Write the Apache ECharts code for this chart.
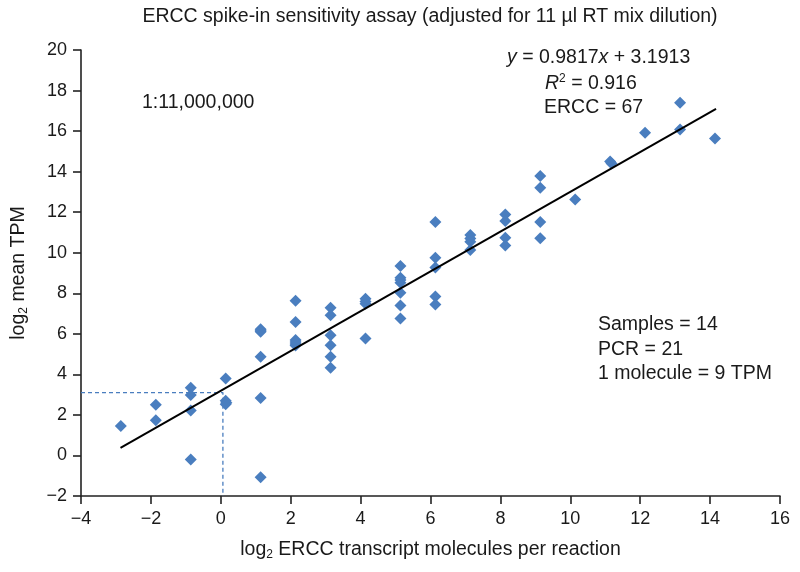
<!DOCTYPE html>
<html>
<head>
<meta charset="utf-8">
<script src="https://cdn.jsdelivr.net/npm/echarts@6/dist/echarts.min.js"></script>
<style>html,body{margin:0;padding:0;background:#fff}#c{width:800px;height:572px}</style>
</head>
<body>
<div id="c"></div>
<script>
// ---- data ----
const pointX = [
  -2.86,
  -1.86, -1.86,
  -0.86, -0.86, -0.86, -0.86,
  0.14, 0.14, 0.14, 0.16,
  1.14, 1.14, 1.14, 1.14, 1.14, 1.14,
  2.14, 2.14, 2.14, 2.14, 2.14, 2.14,
  3.14, 3.14, 3.14, 3.14, 3.14, 3.14,
  4.14, 4.14, 4.14, 4.14,
  5.14, 5.14, 5.14, 5.14, 5.14, 5.14, 5.14,
  6.14, 6.14, 6.14, 6.14, 6.14,
  7.14, 7.14, 7.14, 7.14,
  8.14, 8.14, 8.14, 8.14,
  9.14, 9.14, 9.14, 9.14,
  10.14,
  11.14, 11.18,
  12.14,
  13.14, 13.14,
  14.14
];
const pointY = [
  1.45,
  2.50, 1.74,
  3.34, 2.98, 2.22, -0.20,
  3.80, 2.70, 2.52, 2.60,
  6.22, 6.10, 4.87, 2.83, -1.07, 6.15,
  7.63, 6.58, 5.69, 5.50, 5.42, 5.60,
  7.29, 6.91, 5.93, 5.44, 4.87, 4.33,
  7.73, 7.48, 5.77, 7.60,
  9.34, 8.77, 8.52, 8.03, 7.40, 6.76, 8.65,
  11.52, 9.75, 9.27, 7.84, 7.45,
  10.87, 10.54, 10.13, 10.70,
  11.89, 11.56, 10.74, 10.36,
  13.78, 13.21, 11.51, 10.71,
  12.63,
  14.50, 14.40,
  15.92,
  17.40, 16.08,
  15.64
];
const fitX = [-2.87, 14.17];
const fitY = [0.37, 17.10];
const guideX = [-4, 0.06, 0.06];
const guideY = [3.10, 3.10, -2];
const xTicks = {min: -4, max: 16, step: 2};
const yTicks = {min: -2, max: 20, step: 2};
const titleText = 'ERCC spike-in sensitivity assay (adjusted for 11 \u00b5l RT mix dilution)';
const dilutionText = '1:11,000,000';
const eqText = ['{i|y} = 0.9817{i|x} + 3.1913', '{i|R}{sup|2} = 0.916', 'ERCC = 67'];
const infoText = ['Samples = 14', 'PCR = 21', '1 molecule = 9 TPM'];

// ---- chart ----
const FONT = '"Liberation Sans", Arial, Helvetica, sans-serif';
const TXT = '#1a1a1a';
const FS = 19.5;
const chart = echarts.init(document.getElementById('c'), null, {renderer: 'canvas'});
const fmt = v => String(v).replace('-', '\u2212');

const pts = pointX.map((x, i) => [x, pointY[i]]);
const fit = fitX.map((x, i) => [x, fitY[i]]);
const guide = guideX.map((x, i) => [x, guideY[i]]);

const richBase = {
  i: {fontStyle: 'italic', fontSize: FS, fontFamily: FONT, color: TXT},
  sup: {fontSize: 12, fontFamily: FONT, color: TXT, padding: [0, 0, 10, 0]},
  sub: {fontSize: 12, fontFamily: FONT, color: TXT, padding: [10, 0, 0, 0]},
  n: {fontSize: FS, fontFamily: FONT, color: TXT}
};

function txt(x, y, s, align) {
  return {
    type: 'text', x: x, y: y, z: 10,
    style: {
      text: s, x: 0, y: 0, fontSize: FS, fontFamily: FONT, fill: TXT,
      textAlign: align || 'left', textVerticalAlign: 'middle',
      rich: richBase
    }
  };
}

const axisCommon = {
  type: 'value',
  splitLine: {show: false},
  axisLine: {show: true, onZero: false, lineStyle: {color: '#222', width: 1.6}},
  axisTick: {show: true, length: 8, lineStyle: {color: '#222', width: 1.6}},
  axisLabel: {color: TXT, fontSize: 18, fontFamily: FONT, formatter: fmt},
  nameLocation: 'middle',
  nameTextStyle: {color: TXT, fontSize: FS, fontFamily: FONT, rich: {
    n: {fontSize: FS, fontFamily: FONT, color: TXT},
    sub: {fontSize: 12, fontFamily: FONT, color: TXT, padding: [10, 0, 0, 0]}
  }}
};

chart.setOption({
  animation: false,
  backgroundColor: '#fff',
  grid: {left: 81, right: 20, top: 50, bottom: 76, containLabel: false, outerBoundsMode: 'none'},
  xAxis: Object.assign({}, axisCommon, {
    min: xTicks.min, max: xTicks.max, interval: xTicks.step,
    axisLabel: Object.assign({}, axisCommon.axisLabel, {margin: 14}),
    name: '{n|log}{sub|2}{n| ERCC transcript molecules per reaction}',
    nameGap: 43
  }),
  yAxis: Object.assign({}, axisCommon, {
    min: yTicks.min, max: yTicks.max, interval: yTicks.step,
    axisLabel: Object.assign({}, axisCommon.axisLabel, {margin: 14}),
    name: '{n|log}{sub|2}{n| mean TPM}',
    nameGap: 51
  }),
  series: [
    {
      type: 'line', data: guide, symbol: 'none', silent: true, z: 1,
      lineStyle: {color: '#4a7ebf', width: 1.3, type: [4, 3]}
    },
    {
      type: 'scatter', data: pts, symbol: 'diamond', symbolSize: [12, 12], z: 2,
      itemStyle: {color: '#4a7ebf', opacity: 1}
    },
    {
      type: 'line', data: fit, symbol: 'none', silent: true, z: 3,
      lineStyle: {color: '#000', width: 2}
    }
  ],
  graphic: [
    txt(430, 17, titleText, 'center'),
    txt(142, 103, dilutionText),
    txt(507, 58, eqText[0]),
    txt(545, 84, eqText[1]),
    txt(544, 108, eqText[2]),
    txt(598, 325, infoText[0]),
    txt(598, 350, infoText[1]),
    txt(598, 374, infoText[2])
  ]
});
</script>
</body>
</html>
